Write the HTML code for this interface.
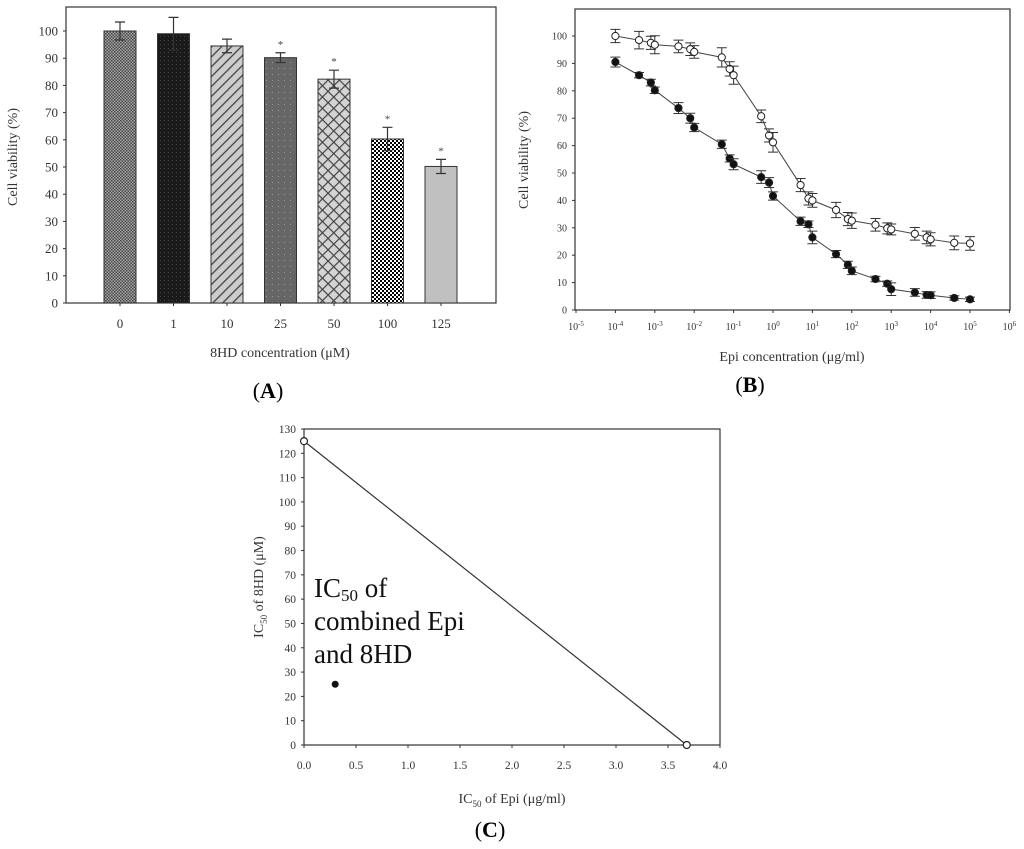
<!DOCTYPE html>
<html><head><meta charset="utf-8"><style>
body{margin:0;background:#fff;}
svg{display:block;font-family:"Liberation Serif",serif;}
</style></head><body>
<svg width="1024" height="849" viewBox="0 0 1024 849" xmlns="http://www.w3.org/2000/svg">
<defs>
<pattern id="p0" width="3" height="3" patternUnits="userSpaceOnUse"><rect width="3" height="3" fill="#aaa"/><rect width="1.5" height="1.5" fill="#444"/><rect x="1.5" y="1.5" width="1.5" height="1.5" fill="#444"/></pattern>
<pattern id="p1" width="4" height="4" patternUnits="userSpaceOnUse"><rect width="4" height="4" fill="#1a1a1a"/><rect width="1" height="1" fill="#444"/></pattern>
<pattern id="p2" width="7" height="7" patternUnits="userSpaceOnUse" patternTransform="rotate(45)"><rect width="7" height="7" fill="#ccc"/><rect width="1.3" height="7" fill="#444"/></pattern>
<pattern id="p3" width="6" height="6" patternUnits="userSpaceOnUse"><rect width="6" height="6" fill="#666"/><rect x="2" y="2" width="1" height="1" fill="#999"/></pattern>
<pattern id="p4" width="8" height="8" patternUnits="userSpaceOnUse" patternTransform="rotate(45)"><rect width="8" height="8" fill="#d4d4d4"/><rect width="1.2" height="8" fill="#444"/><rect width="8" height="1.2" fill="#444"/></pattern>
<pattern id="p5" width="4" height="4" patternUnits="userSpaceOnUse"><rect width="4" height="4" fill="#fff"/><rect width="2" height="2" fill="#000"/><rect x="2" y="2" width="2" height="2" fill="#000"/></pattern>
<pattern id="p6" width="4" height="4" patternUnits="userSpaceOnUse"><rect width="4" height="4" fill="#c0c0c0"/></pattern>
</defs>
<g id="A"></g><g id="B"></g><g id="C"></g>
</svg>
<script>
// Panel A data
const catsA = ["0","1","10","25","50","100","125"];
const valsA = [100, 99, 94.5, 90.2, 82.3, 60.3, 50.2];
const errA = [3.3, 6, 2.5, 1.8, 3.3, 4.3, 2.6];
const starA = [false,false,false,true,true,true,true];
const ticksA = [0,10,20,30,40,50,60,70,80,90,100];
// Panel B data
const logxB = [-4,-3.4,-3.1,-3,-2.4,-2.1,-2,-1.3,-1.1,-1,-0.3,-0.1,0,0.7,0.9,1,1.6,1.9,2,2.6,2.9,3,3.6,3.9,4,4.6,5];
const openB = [100,98.5,97.5,96.8,96.2,95.2,94.2,92.2,88,85.7,70.7,63.7,61.2,45.6,40.7,40,36.5,33.2,32.6,31.1,29.8,29.4,27.8,26.5,25.8,24.5,24.3];
const openErrB = [2.4,3.2,2.4,3.3,2.3,2.3,2.3,3.5,2.6,3.3,2.3,2.4,3.6,2.4,2.4,2.5,2.8,2.4,2.8,2.3,2,2,2.3,2.3,2.4,2.5,2.5];
const fillB = [90.5,85.7,83,80.2,73.7,70,66.6,60.5,55.3,53.2,48.5,46.5,41.6,32.4,31.3,26.5,20.4,16.5,14.3,11.3,9.6,7.6,6.4,5.5,5.4,4.4,3.9];
const fillErrB = [1.8,1,1.2,1.2,2,1.8,1.5,1.5,1.3,2,2.3,1.8,1.5,1.5,1.2,2.3,1.3,1.3,1.4,1,1,2.3,1.4,1.2,1.2,0.8,0.8];
const ticksB = [0,10,20,30,40,50,60,70,80,90,100];
const decB = [-5,-4,-3,-2,-1,0,1,2,3,4,5,6];
// Panel C data
const lineCx = [0, 3.68];
const lineCy = [125, 0];
const dotCx = [0.3];
const dotCy = [25];
const ticksCy = [0,10,20,30,40,50,60,70,80,90,100,110,120,130];
const ticksCx = [0,0.5,1,1.5,2,2.5,3,3.5,4];

const NS="http://www.w3.org/2000/svg";
function mk(parent,tag,attrs,text){const e=document.createElementNS(NS,tag);for(const k in attrs)e.setAttribute(k,attrs[k]);if(text!==undefined)e.textContent=text;parent.appendChild(e);return e;}

// ---- Panel A
(function(){
const g=document.getElementById('A');
const yA=v=>303-v*2.72;
const xA=i=>120+i*53.5;
let e=mk(g,'rect',{x:66,y:7,width:430,height:296,fill:'none',stroke:'#333','stroke-width':1.2});

ticksA.forEach(t=>{
 e=mk(g,'line',{x1:63,x2:66,y1:yA(t),y2:yA(t),stroke:'#333'});
 
 e=mk(g,'text',{x:58,y:yA(t)+4.5,'text-anchor':'end','font-size':13,fill:'#333'},t);
 
});
valsA.forEach((v,i)=>{
 const cx=xA(i);
 e=mk(g,'rect',{x:cx-16,y:yA(v),width:32,height:303-yA(v),fill:'url(#p'+i+')',stroke:'#333','stroke-width':1});
 
 const t=yA(v+errA[i]),b=yA(v-errA[i]);
 e=mk(g,'path',{d:`M${cx},${t}V${b}M${cx-5},${t}H${cx+5}M${cx-5},${b}H${cx+5}`,stroke:'#333','stroke-width':1.2,fill:'none'});
 
 if(starA[i]){e=mk(g,'text',{x:cx,y:t-5,'text-anchor':'middle','font-size':11,fill:'#444'},'*');
 }
 e=mk(g,'line',{x1:cx,x2:cx,y1:303,y2:306,stroke:'#333'});
 
 e=mk(g,'text',{x:cx,y:328,'text-anchor':'middle','font-size':13,fill:'#333'},catsA[i]);
 
});
e=mk(g,'text',{x:280,y:357,'text-anchor':'middle','font-size':14,fill:'#333'},'8HD concentration (μM)');

e=mk(g,'text',{x:0,y:0,'text-anchor':'middle','font-size':14,fill:'#333',transform:'translate(17,157) rotate(-90)'},'Cell viability (%)');

e=mk(g,'text',{x:268,y:398,'text-anchor':'middle','font-size':22,fill:'#000'},'');
e.innerHTML='(<tspan font-weight="bold">A</tspan>)';

})();

// ---- Panel B
(function(){
const g=document.getElementById('B');
const yB=v=>310-v*2.74;
const xB=l=>576+(l+5)*39.4;
let e=mk(g,'rect',{x:575,y:9,width:435,height:301,fill:'none',stroke:'#333','stroke-width':1.2});

ticksB.forEach(t=>{
 e=mk(g,'line',{x1:572,x2:575,y1:yB(t),y2:yB(t),stroke:'#333'});
 
 e=mk(g,'text',{x:567,y:yB(t)+3.5,'text-anchor':'end','font-size':10,fill:'#333'},t);
 
});
decB.forEach(d=>{
 const x=xB(d);
 e=mk(g,'line',{x1:x,x2:x,y1:310,y2:313,stroke:'#333'});
 
 e=mk(g,'text',{x:x,y:330,'text-anchor':'middle','font-size':10,fill:'#333'},'');
 e.innerHTML='10<tspan dy="-4" font-size="7">'+d+'</tspan>';
 
});
function series(vals,errs,filled,name){
 let d='';vals.forEach((v,i)=>{d+=(i?'L':'M')+xB(logxB[i])+','+yB(v);});
 e=mk(g,'path',{d:d,stroke:'#444','stroke-width':1,fill:'none'});
 
 vals.forEach((v,i)=>{
  const x=xB(logxB[i]),t=yB(v+errs[i]),b=yB(v-errs[i]);
  e=mk(g,'path',{d:`M${x},${t}V${b}M${x-5},${t}H${x+5}M${x-5},${b}H${x+5}`,stroke:'#333','stroke-width':1,fill:'none'});
  
  e=mk(g,'circle',{cx:x,cy:yB(v),r:3.6,fill:filled?'#111':'#fff',stroke:'#222','stroke-width':1});
  
 });
}
series(openB,openErrB,false,'open-series');
series(fillB,fillErrB,true,'filled-series');
e=mk(g,'text',{x:792,y:361,'text-anchor':'middle','font-size':14,fill:'#333'},'Epi concentration (μg/ml)');

e=mk(g,'text',{x:0,y:0,'text-anchor':'middle','font-size':14,fill:'#333',transform:'translate(528,160) rotate(-90)'},'Cell viability (%)');

e=mk(g,'text',{x:750,y:392,'text-anchor':'middle','font-size':22,fill:'#000'},'');
e.innerHTML='(<tspan font-weight="bold">B</tspan>)';

})();

// ---- Panel C
(function(){
const g=document.getElementById('C');
const yC=v=>745-v*(316/130);
const xC=v=>304+v*104;
let e=mk(g,'rect',{x:304,y:429,width:416,height:316,fill:'none',stroke:'#333','stroke-width':1.2});

ticksCy.forEach(t=>{
 e=mk(g,'line',{x1:301,x2:304,y1:yC(t),y2:yC(t),stroke:'#333'});
 
 e=mk(g,'text',{x:296,y:yC(t)+4,'text-anchor':'end','font-size':11.5,fill:'#333'},t);
 
});
ticksCx.forEach(t=>{
 e=mk(g,'line',{x1:xC(t),x2:xC(t),y1:745,y2:748,stroke:'#333'});
 
 e=mk(g,'text',{x:xC(t),y:769,'text-anchor':'middle','font-size':11.5,fill:'#333'},t.toFixed(1));
 
});
e=mk(g,'line',{x1:xC(lineCx[0]),y1:yC(lineCy[0]),x2:xC(lineCx[1]),y2:yC(lineCy[1]),stroke:'#333','stroke-width':1.2});

lineCx.forEach((x,i)=>{
 e=mk(g,'circle',{cx:xC(x),cy:yC(lineCy[i]),r:3.5,fill:'#fff',stroke:'#222','stroke-width':1.2});
 
});
dotCx.forEach((x,i)=>{
 e=mk(g,'circle',{cx:xC(x),cy:yC(dotCy[i]),r:3.5,fill:'#111'});
 
});
const ann=[['IC',597],['combined Epi',630],['and 8HD',663]];
e=mk(g,'text',{x:314,y:597,'font-size':27,fill:'#111'},'');
e.innerHTML='IC<tspan font-size="17" dy="4">50</tspan><tspan dy="-4"> of</tspan>';

e=mk(g,'text',{x:314,y:630,'font-size':27,fill:'#111'},'combined Epi');

e=mk(g,'text',{x:314,y:663,'font-size':27,fill:'#111'},'and 8HD');

e=mk(g,'text',{x:512,y:803,'text-anchor':'middle','font-size':14,fill:'#333'},'');
e.innerHTML='IC<tspan font-size="9" dy="4">50</tspan><tspan dy="-4"> of Epi (μg/ml)</tspan>';

e=mk(g,'text',{x:0,y:0,'text-anchor':'middle','font-size':14,fill:'#333',transform:'translate(263,587) rotate(-90)'},'');
e.innerHTML='IC<tspan font-size="9" dy="4">50</tspan><tspan dy="-4"> of 8HD (μM)</tspan>';

e=mk(g,'text',{x:490,y:837,'text-anchor':'middle','font-size':22,fill:'#000'},'');
e.innerHTML='(<tspan font-weight="bold">C</tspan>)';

})();
</script>
</body></html>
